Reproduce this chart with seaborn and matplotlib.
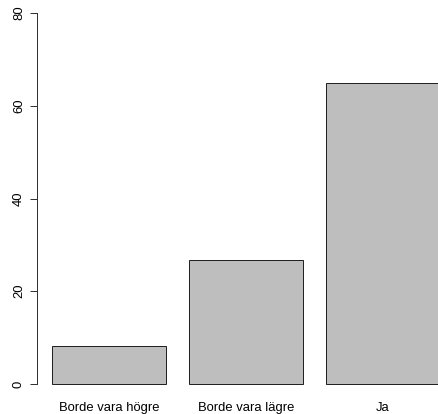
import matplotlib
matplotlib.use("Agg")
import matplotlib.pyplot as plt
import seaborn as sns
import pandas as pd

# svarsalternativ och andel (%)
categories = ["Borde vara högre", "Borde vara lägre", "Ja"]
values = [8.2, 26.7, 65.0]
y_ticks = [0, 20, 40, 60, 80]

sns.set_style("white")
plt.rcParams["font.family"] = ["Liberation Sans", "DejaVu Sans"]

W, H, DPI = 438, 414, 72
fig = plt.figure(figsize=(W / DPI, H / DPI), dpi=DPI)

# plot region in pixels (R-style layout, third bar runs past the right edge)
px_per_cat = 137.0
x0_px = 109.0
left_px = 37.0
xmin = (left_px - x0_px) / px_per_cat
xmax = 2.6
right_px = x0_px + xmax * px_per_cat

px_per_unit = (384.0 - 13.0) / 80.0
ymin, ymax = -3.2, 83.2
bottom_px = 384.0 + (0 - ymin) * px_per_unit
top_px = 13.0 - (ymax - 80) * px_per_unit

ax = fig.add_axes([left_px / W, 1 - bottom_px / H,
                   (right_px - left_px) / W, (bottom_px - top_px) / H])

df = pd.DataFrame({"svar": categories, "andel": values})
sns.barplot(data=df, x="svar", y="andel", color="#bebebe", saturation=1,
            width=1 / 1.2, edgecolor="#222222", linewidth=1, ax=ax)

ax.set_xlim(xmin, xmax)
ax.set_ylim(ymin, ymax)
ax.set_xlabel("")
ax.set_ylabel("")
ax.set_yticks(y_ticks)
ax.set_yticklabels([str(t) for t in y_ticks], rotation=90, va="center", fontsize=13)
ax.tick_params(axis="y", length=7, width=1, color="#333333", pad=5, left=True,
               labelcolor="black")
ax.tick_params(axis="x", length=0, pad=3, labelsize=13, labelcolor="black")

for s in ["top", "right", "bottom"]:
    ax.spines[s].set_visible(False)
ax.spines["left"].set_bounds(0, 80)
ax.spines["left"].set_color("#333333")
ax.spines["left"].set_linewidth(1)

fig.savefig("out.png", dpi=DPI)
